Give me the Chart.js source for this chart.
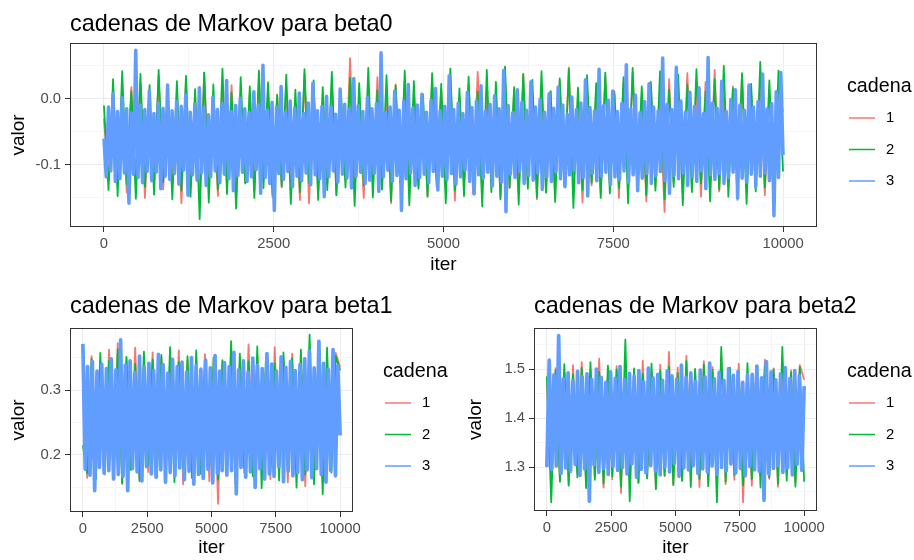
<!DOCTYPE html>
<html>
<head>
<meta charset="utf-8">
<script src="https://cdn.jsdelivr.net/npm/chart.js@4.4.0/dist/chart.umd.min.js"></script>
<style>
  body { margin: 0; background: #fff; width: 914px; height: 560px; position: relative; overflow: hidden; }
  canvas { position: absolute; }
</style>
</head>
<body>
<canvas id="beta0" width="914" height="280" style="left:0;top:0"></canvas>
<canvas id="beta1" width="457" height="280" style="left:0;top:280px"></canvas>
<canvas id="beta2" width="457" height="280" style="left:457px;top:280px"></canvas>
<script>
// cadenas (chains) and iterations
const cadenas = ['1', '2', '3'];
const colores = ['#F8766D', '#00BA38', '#619CFF'];
const totalIter = 10000;

const xTicks = [0, 2500, 5000, 7500, 10000];
const xTickLabels = ['0', '2500', '5000', '7500', '10000'];
const xMinor = [1250, 3750, 6250, 8750];

const beta0Ticks = [-0.1, 0.0];
const beta0TickLabels = ['-0.1', '0.0'];
const beta0Minor = [-0.15, -0.05, 0.05];
const beta1Ticks = [0.2, 0.3];
const beta1TickLabels = ['0.2', '0.3'];
const beta1Minor = [0.15, 0.25, 0.35];
const beta2Ticks = [1.3, 1.4, 1.5];
const beta2TickLabels = ['1.3', '1.4', '1.5'];
const beta2Minor = [1.25, 1.35, 1.45, 1.55];

// beta0 traces (thinned)
const beta0Cadena1 = [
  -0.030,-0.125,0.005,-0.131,-0.008,-0.142,0.018,-0.119,0.024,-0.150,
  -0.003,-0.128,0.035,-0.137,0.011,-0.124,-0.006,-0.158,0.027,-0.133,
  0.002,-0.141,0.040,-0.122,-0.009,-0.147,0.015,-0.130,0.021,-0.155,
  -0.004,-0.126,0.009,-0.139,0.031,-0.121,0.016,-0.149,0.006,-0.134,
  0.019,-0.127,-0.007,-0.153,0.038,-0.158,0.012,-0.140,-0.002,-0.129,
  0.026,-0.145,0.004,-0.123,0.062,-0.138,-0.008,-0.150,0.016,-0.128,
  0.033,-0.136,0.001,-0.158,0.022,-0.125,0.029,-0.143,0.008,-0.131,
  -0.005,-0.147,0.028,-0.122,0.014,-0.139,0.036,-0.154,0.003,-0.130,
  0.020,-0.144,0.041,-0.133,0.010,-0.127,-0.003,-0.148,0.032,-0.135,
  0.015,-0.141,0.037,-0.129,0.006,-0.152,0.023,-0.137,0.011,-0.146,
  0.027,-0.124,0.048,-0.139,0.004,-0.157,0.018,-0.131,-0.006,-0.143,
  0.034,-0.128,0.012,-0.150,0.025,-0.122,0.040,-0.136,0.007,-0.155,
  0.021,-0.132,-0.002,-0.171,0.030,-0.126,0.014,-0.145,0.039,-0.134,
  0.009,-0.148,0.026,-0.121,0.044,-0.140,0.003,-0.129,0.019,-0.153,
  0.035,-0.137,0.011,-0.124,0.028,-0.146,0.005,-0.133,0.017,-0.020
];
const beta0Cadena2 = [
  -0.010,-0.138,0.030,-0.147,0.042,-0.129,0.012,-0.151,0.038,-0.133,
  0.021,-0.145,0.044,-0.126,0.008,-0.152,0.027,-0.139,0.035,-0.148,
  0.015,-0.182,0.040,-0.157,0.022,-0.137,0.046,-0.144,0.010,-0.166,
  0.033,-0.128,0.019,-0.150,0.043,-0.135,0.025,-0.146,0.006,-0.132,
  0.037,-0.159,0.014,-0.141,0.045,-0.127,0.028,-0.153,0.018,-0.138,
  0.041,-0.146,0.009,-0.134,0.032,-0.162,0.024,-0.131,0.047,-0.149,
  0.013,-0.137,0.036,-0.155,0.020,-0.128,0.043,-0.161,0.027,-0.136,
  0.007,-0.148,0.039,-0.133,0.023,-0.158,0.046,-0.139,0.016,-0.147,
  0.034,-0.130,0.011,-0.163,0.044,-0.141,0.026,-0.152,0.049,-0.134,
  0.018,-0.160,0.038,-0.136,0.029,-0.149,0.042,-0.142,0.012,-0.156,
  0.031,-0.131,0.045,-0.165,0.017,-0.138,0.036,-0.127,0.024,-0.150,
  0.040,-0.143,0.008,-0.135,0.033,-0.158,0.047,-0.129,0.019,-0.146,
  0.026,-0.139,0.042,-0.152,0.014,-0.133,0.037,-0.161,0.022,-0.141,
  0.045,-0.128,0.011,-0.155,0.030,-0.137,0.050,-0.148,0.016,-0.132,
  0.039,-0.159,0.023,-0.140,0.056,-0.134,0.028,-0.151,0.043,-0.110
];
const beta0Cadena3 = [
  -0.060,-0.118,-0.012,-0.109,0.008,-0.125,-0.019,-0.121,0.002,-0.112,
  -0.015,-0.158,-0.021,-0.114,0.074,-0.119,-0.009,-0.127,-0.016,-0.110,
  0.013,-0.124,-0.022,-0.111,-0.006,-0.136,-0.014,-0.117,0.021,-0.122,
  -0.018,-0.113,-0.004,-0.129,-0.011,-0.108,0.006,-0.146,-0.020,-0.115,
  -0.008,-0.123,0.017,-0.112,-0.013,-0.131,-0.024,-0.118,0.003,-0.109,
  -0.016,-0.127,-0.007,-0.114,0.028,-0.121,-0.019,-0.139,-0.010,-0.116,
  0.001,-0.111,-0.015,-0.125,-0.021,-0.118,0.011,-0.107,-0.009,-0.143,
  0.051,-0.119,-0.017,-0.128,-0.005,-0.169,-0.012,-0.113,0.019,-0.122,
  -0.020,-0.110,-0.003,-0.133,-0.014,-0.117,0.009,-0.124,-0.022,-0.112,
  -0.006,-0.130,0.024,-0.115,-0.018,-0.121,-0.011,-0.148,0.004,-0.118,
  -0.013,-0.109,-0.023,-0.126,0.015,-0.114,-0.008,-0.120,-0.016,-0.135,
  0.031,-0.117,-0.010,-0.111,-0.019,-0.128,0.002,-0.123,-0.015,-0.113,
  -0.007,-0.140,0.070,-0.118,-0.021,-0.108,-0.012,-0.125,0.012,-0.116,
  -0.017,-0.169,-0.004,-0.121,0.022,-0.112,-0.014,-0.131,-0.009,-0.119,
  0.007,-0.114,-0.020,-0.127,-0.002,-0.110,0.016,-0.138,-0.018,-0.117,
  -0.011,-0.122,0.035,-0.113,-0.016,-0.129,-0.006,-0.118,-0.022,-0.108,
  0.010,-0.125,-0.013,-0.144,-0.003,-0.115,0.020,-0.120,-0.019,-0.111,
  -0.008,-0.132,0.005,-0.117,-0.015,-0.126,0.043,-0.171,-0.010,-0.114,
  -0.021,-0.119,0.014,-0.109,-0.005,-0.128,-0.017,-0.116,0.026,-0.123,
  -0.012,-0.112,-0.001,-0.137,-0.020,-0.118,0.008,-0.125,-0.014,-0.110,
  0.018,-0.121,-0.009,-0.133,-0.023,-0.115,0.003,-0.108,-0.016,-0.127,
  -0.006,-0.119,0.029,-0.147,-0.013,-0.113,-0.018,-0.124,0.045,-0.117,
  -0.010,-0.111,-0.002,-0.130,0.012,-0.118,-0.019,-0.122,-0.007,-0.109,
  0.052,-0.126,-0.015,-0.115,0.006,-0.139,-0.021,-0.120,-0.004,-0.113,
  0.023,-0.128,-0.012,-0.117,-0.018,-0.110,0.062,-0.124,-0.008,-0.143,
  -0.016,-0.116,0.048,-0.121,-0.003,-0.112,-0.020,-0.131,0.010,-0.118,
  -0.011,-0.125,0.017,-0.109,-0.022,-0.136,0.063,-0.115,-0.006,-0.122,
  -0.014,-0.113,0.027,-0.128,-0.019,-0.119,-0.001,-0.111,0.014,-0.150,
  -0.009,-0.120,-0.017,-0.126,0.021,-0.114,-0.012,-0.133,-0.004,-0.117,
  0.038,-0.112,-0.015,-0.124,-0.007,-0.177,0.011,-0.119,0.040,-0.085
];

// beta1 traces
const beta1Cadena1 = [
  0.320,0.165,0.352,0.183,0.344,0.170,0.362,0.176,0.372,0.158,
  0.348,0.186,0.365,0.162,0.339,0.174,0.358,0.180,0.350,0.167,
  0.343,0.178,0.361,0.155,0.346,0.172,0.337,0.184,0.355,0.160,
  0.349,0.125,0.341,0.179,0.359,0.166,0.345,0.173,0.370,0.169,
  0.352,0.181,0.338,0.163,0.366,0.175,0.347,0.158,0.356,0.187,
  0.342,0.152,0.360,0.171,0.351,0.164,0.344,0.182,0.357,0.335
];
const beta1Cadena2 = [
  0.215,0.172,0.348,0.163,0.357,0.181,0.345,0.168,0.363,0.156,
  0.351,0.177,0.340,0.160,0.359,0.185,0.347,0.166,0.354,0.174,
  0.366,0.158,0.343,0.179,0.352,0.165,0.361,0.171,0.338,0.183,
  0.350,0.162,0.346,0.176,0.375,0.157,0.356,0.180,0.344,0.167,
  0.367,0.149,0.353,0.175,0.341,0.161,0.358,0.178,0.349,0.150,
  0.362,0.170,0.385,0.155,0.347,0.140,0.365,0.173,0.352,0.330
];
const beta1Cadena3 = [
  0.371,0.178,0.336,0.169,0.344,0.145,0.329,0.181,0.340,0.172,
  0.333,0.176,0.348,0.163,0.331,0.170,0.377,0.167,0.338,0.145,
  0.345,0.179,0.327,0.174,0.352,0.160,0.335,0.182,0.341,0.171,
  0.330,0.166,0.355,0.177,0.339,0.158,0.326,0.173,0.347,0.168,
  0.336,0.180,0.343,0.162,0.328,0.175,0.350,0.155,0.337,0.170,
  0.332,0.164,0.346,0.178,0.334,0.157,0.353,0.172,0.329,0.176,
  0.342,0.169,0.336,0.176,0.358,0.140,0.331,0.181,0.345,0.166,
  0.327,0.174,0.349,0.150,0.338,0.179,0.333,0.163,0.356,0.171,
  0.340,0.167,0.329,0.182,0.351,0.159,0.335,0.175,0.344,0.168,
  0.330,0.173,0.339,0.162,0.348,0.177,0.360,0.165,0.334,0.179,
  0.375,0.170,0.341,0.158,0.332,0.176,0.362,0.168,0.337,0.230
];

// beta2 traces
const beta2Cadena1 = [
  1.470,1.283,1.502,1.271,1.495,1.266,1.508,1.288,1.514,1.262,
  1.497,1.279,1.521,1.258,1.490,1.275,1.506,1.247,1.512,1.284,
  1.499,1.268,1.517,1.277,1.493,1.256,1.509,1.281,1.535,1.263,
  1.503,1.272,1.527,1.286,1.496,1.259,1.516,1.270,1.504,1.279,
  1.524,1.265,1.498,1.274,1.511,1.228,1.492,1.262,1.507,1.281,
  1.519,1.276,1.501,1.260,1.513,1.287,1.497,1.269,1.508,1.478
];
const beta2Cadena2 = [
  1.485,1.228,1.497,1.270,1.510,1.262,1.489,1.279,1.503,1.257,
  1.514,1.274,1.494,1.266,1.507,1.281,1.499,1.260,1.560,1.230,
  1.501,1.268,1.490,1.277,1.511,1.255,1.496,1.283,1.505,1.264,
  1.492,1.272,1.516,1.259,1.500,1.276,1.509,1.261,1.498,1.228,
  1.545,1.270,1.503,1.284,1.495,1.263,1.512,1.275,1.490,1.258,
  1.506,1.279,1.499,1.266,1.545,1.272,1.493,1.260,1.504,1.270
];
const beta2Cadena3 = [
  1.300,1.518,1.295,1.488,1.302,1.568,1.287,1.480,1.298,1.492,
  1.291,1.476,1.305,1.495,1.283,1.484,1.296,1.490,1.230,1.479,
  1.304,1.500,1.289,1.483,1.297,1.473,1.285,1.494,1.301,1.481,
  1.293,1.505,1.299,1.478,1.286,1.491,1.306,1.485,1.279,1.497,
  1.295,1.474,1.288,1.502,1.303,1.482,1.292,1.489,1.284,1.477,
  1.300,1.496,1.290,1.486,1.307,1.479,1.281,1.508,1.298,1.483,
  1.294,1.492,1.303,1.475,1.287,1.498,1.296,1.484,1.290,1.512,
  1.302,1.480,1.285,1.493,1.299,1.477,1.292,1.501,1.306,1.487,
  1.288,1.495,1.297,1.473,1.282,1.488,1.301,1.489,1.294,1.506,
  1.291,1.482,1.232,1.515,1.286,1.494,1.297,1.478,1.303,1.490,
  1.289,1.503,1.298,1.481,1.284,1.497,1.305,1.486,1.293,1.465
];

const FONT = '"Liberation Sans", Arial, Helvetica, sans-serif';

// values are spread evenly over the iterations
function toPoints(values) {
  return values.map((v, i) => ({ x: i * totalIter / (values.length - 1), y: v }));
}

function isMajor(value, major) {
  return major.some(m => Math.abs(m - value) < 1e-9);
}

function labelFor(value, major, labels) {
  const idx = major.findIndex(m => Math.abs(m - value) < 1e-9);
  return idx >= 0 ? labels[idx] : '';
}

function panelDecor(title, titleY, legendTop) {
  return {
    id: 'panelDecor',
    afterDatasetsDraw(chart) {
      const { ctx, chartArea: a } = chart;
      ctx.save();
      ctx.strokeStyle = '#333333';
      ctx.lineWidth = 1;
      ctx.strokeRect(Math.round(a.left) + 0.5, Math.round(a.top) + 0.5,
        Math.round(a.right - a.left) - 1, Math.round(a.bottom - a.top) - 1);
      ctx.restore();
    },
    afterDraw(chart) {
      const { ctx, chartArea: a } = chart;
      ctx.save();
      ctx.fillStyle = '#000000';
      ctx.textBaseline = 'alphabetic';
      ctx.font = '23.4px ' + FONT;
      ctx.fillText(title, a.left, titleY);

      // legend
      const lx = a.right + 30;
      ctx.font = '19.7px ' + FONT;
      ctx.fillText('cadena', lx, legendTop);
      cadenas.forEach((name, i) => {
        const y = legendTop + 26 + i * 31.5;
        ctx.strokeStyle = colores[i];
        ctx.lineWidth = 1.5;
        ctx.beginPath();
        ctx.moveTo(lx + 2, y);
        ctx.lineTo(lx + 28, y);
        ctx.stroke();
        ctx.font = '14.8px ' + FONT;
        ctx.textBaseline = 'middle';
        ctx.fillText(name, lx + 39, y);
        ctx.textBaseline = 'alphabetic';
      });
      ctx.restore();
    }
  };
}

function trazas(id, chains, y, geo) {
  const datasets = chains.map((values, i) => ({
    label: cadenas[i],
    data: toPoints(values),
    borderColor: colores[i],
    borderWidth: i === 2 ? geo.blueWidth : 1.8,
    borderJoinStyle: 'round',
    pointRadius: 0,
    tension: 0,
    order: 2 - i
  }));

  return new Chart(document.getElementById(id), {
    type: 'line',
    data: { datasets },
    options: {
      responsive: false,
      animation: false,
      devicePixelRatio: 1,
      layout: { padding: { top: geo.top, right: geo.right, left: 0, bottom: 0 } },
      plugins: { legend: { display: false }, tooltip: { enabled: false } },
      scales: {
        x: {
          type: 'linear',
          min: -500,
          max: 10500,
          afterBuildTicks: s => { s.ticks = [...xTicks, ...xMinor].sort((p, q) => p - q).map(v => ({ value: v })); },
          afterFit: s => { s.height = geo.xHeight; },
          ticks: {
            autoSkip: false,
            maxRotation: 0,
            padding: 3,
            color: '#4D4D4D',
            font: { family: FONT, size: 14.8 },
            callback: v => labelFor(v, xTicks, xTickLabels)
          },
          grid: {
            color: c => isMajor(c.tick.value, xTicks) ? '#EBEBEB' : '#F5F5F5',
            tickColor: c => isMajor(c.tick.value, xTicks) ? '#333333' : 'rgba(0,0,0,0)',
            tickLength: 5,
            lineWidth: 1
          },
          border: { display: false },
          title: {
            display: true,
            text: 'iter',
            color: '#000000',
            font: { family: FONT, size: 19 },
            padding: { top: 0, bottom: geo.xTitlePad }
          }
        },
        y: {
          type: 'linear',
          min: y.min,
          max: y.max,
          afterBuildTicks: s => { s.ticks = [...y.major, ...y.minor].sort((p, q) => p - q).map(v => ({ value: v })); },
          afterFit: s => { s.width = geo.yWidth; },
          ticks: {
            autoSkip: false,
            padding: 4,
            color: '#4D4D4D',
            font: { family: FONT, size: 14.8 },
            callback: v => labelFor(v, y.major, y.labels)
          },
          grid: {
            color: c => isMajor(c.tick.value, y.major) ? '#EBEBEB' : '#F5F5F5',
            tickColor: c => isMajor(c.tick.value, y.major) ? '#333333' : 'rgba(0,0,0,0)',
            tickLength: 5,
            lineWidth: 1
          },
          border: { display: false },
          title: {
            display: true,
            text: 'valor',
            color: '#000000',
            font: { family: FONT, size: 19 },
            padding: { top: geo.yTitlePad, bottom: 0 }
          }
        }
      }
    },
    plugins: [panelDecor(geo.title, geo.titleY, geo.legendTop)]
  });
}

trazas('beta0', [beta0Cadena1, beta0Cadena2, beta0Cadena3],
  { min: -0.194, max: 0.0848, major: beta0Ticks, minor: beta0Minor, labels: beta0TickLabels },
  { top: 43, right: 97, yWidth: 70, xHeight: 53, xTitlePad: 4, yTitlePad: 7, blueWidth: 3.5,
    title: 'cadenas de Markov para beta0', titleY: 31, legendTop: 92 });

trazas('beta1', [beta1Cadena1, beta1Cadena2, beta1Cadena3],
  { min: 0.1123, max: 0.3954, major: beta1Ticks, minor: beta1Minor, labels: beta1TickLabels },
  { top: 48, right: 104, yWidth: 70, xHeight: 48, xTitlePad: 1, yTitlePad: 7, blueWidth: 3.7,
    title: 'cadenas de Markov para beta1', titleY: 33, legendTop: 97 });

trazas('beta2', [beta2Cadena1, beta2Cadena2, beta2Cadena3],
  { min: 1.2102, max: 1.5837, major: beta2Ticks, minor: beta2Minor, labels: beta2TickLabels },
  { top: 48, right: 97, yWidth: 77, xHeight: 49, xTitlePad: 1, yTitlePad: 7, blueWidth: 3.7,
    title: 'cadenas de Markov para beta2', titleY: 33, legendTop: 97 });
</script>
</body>
</html>
